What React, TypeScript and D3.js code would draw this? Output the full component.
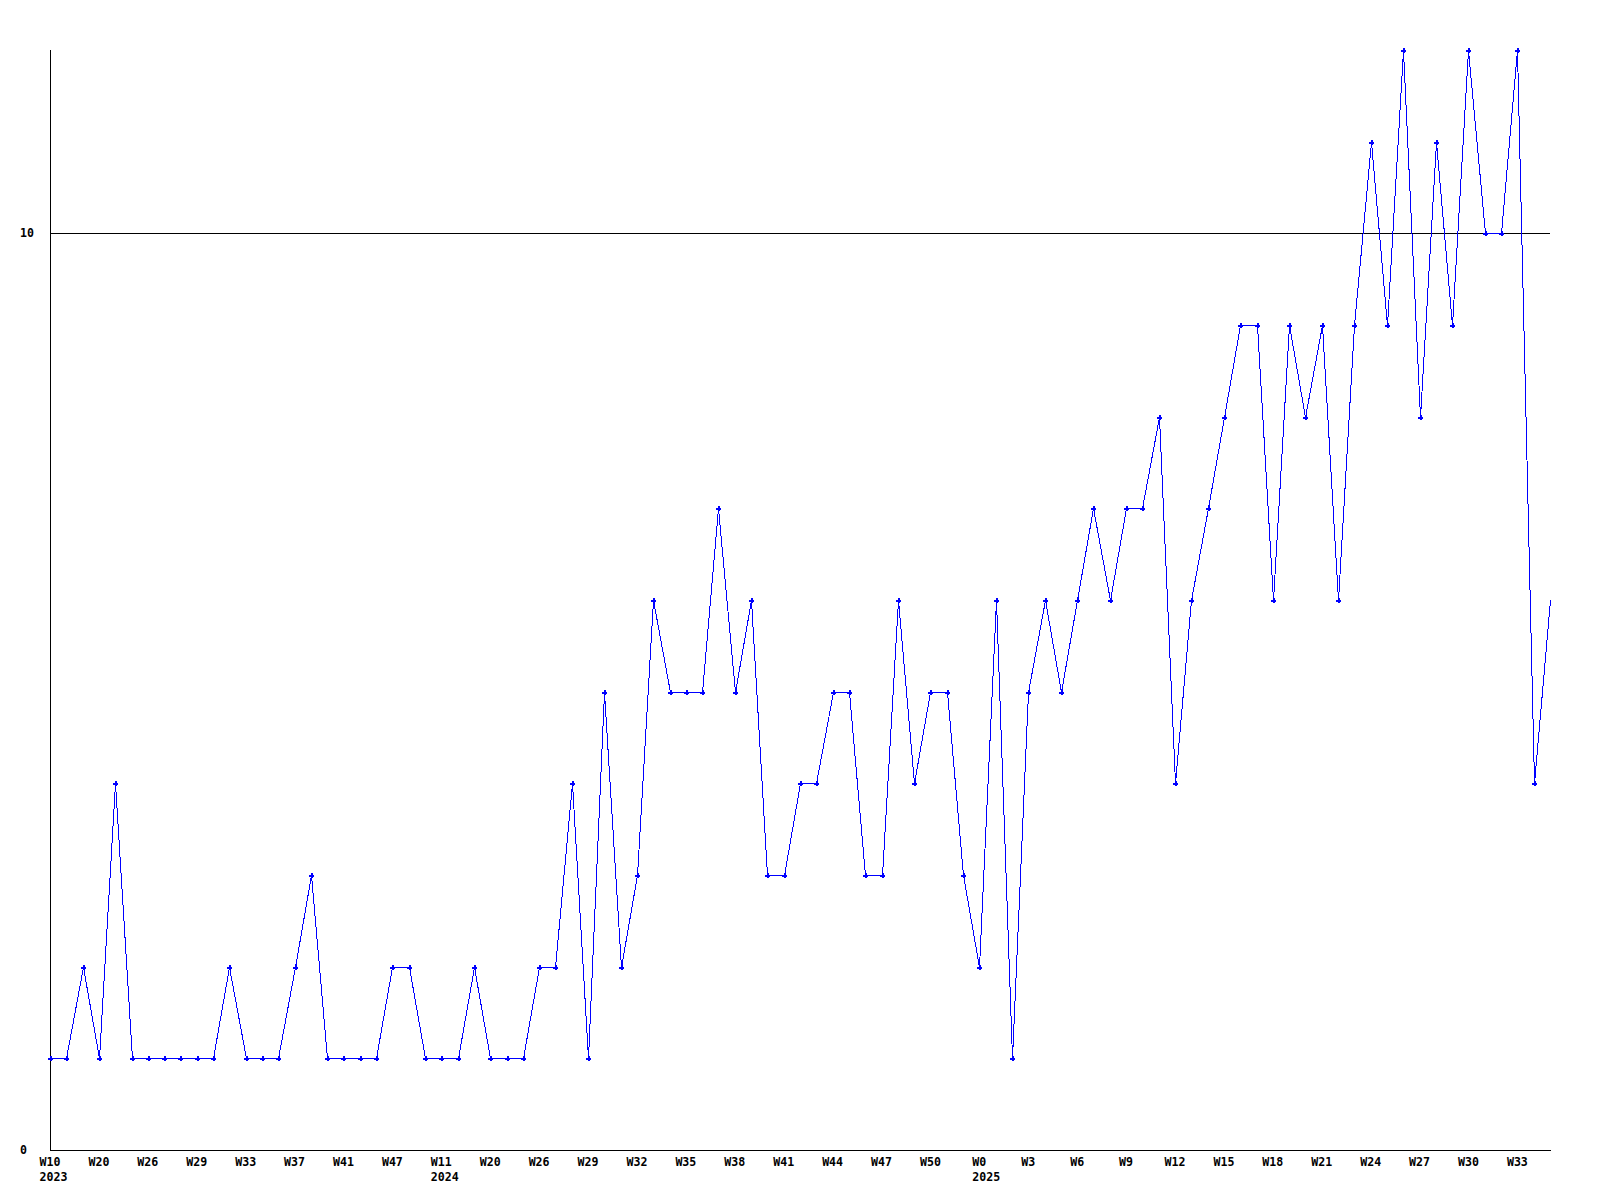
import React from "react";
import * as d3 from "d3";

// Weekly values (93 consecutive data points)
const values: number[] = [
  1, 1, 2, 1, 4, 1, 1, 1, 1, 1,
  1, 2, 1, 1, 1, 2, 3, 1, 1, 1,
  1, 2, 2, 1, 1, 1, 2, 1, 1, 1,
  2, 2, 4, 1, 5, 2, 3, 6, 5, 5,
  5, 7, 5, 6, 3, 3, 4, 4, 5, 5,
  3, 3, 6, 4, 5, 5, 3, 2, 6, 1,
  5, 6, 5, 6, 7, 6, 7, 7, 8, 4,
  6, 7, 8, 9, 9, 6, 9, 8, 9, 6,
  9, 11, 9, 12, 8, 11, 9, 12, 10, 10,
  12, 4, 6,
];

// Tick labels shown every 3rd point
const tickWeeks: string[] = [
  "W10", "W20", "W26", "W29", "W33", "W37", "W41", "W47", "W11", "W20",
  "W26", "W29", "W32", "W35", "W38", "W41", "W44", "W47", "W50", "W0",
  "W3", "W6", "W9", "W12", "W15", "W18", "W21", "W24", "W27", "W30", "W33",
];
const tickYears: string[] = [
  "2023", "", "", "", "", "", "", "", "2024", "",
  "", "", "", "", "", "", "", "", "", "2025",
  "", "", "", "", "", "", "", "", "", "", "",
];
const tickStep = 3;
const yTicks: number[] = [0, 10];
const yMax = 12;

const W = 1600;
const H = 1200;
const left = 50;
const right = 1550;
const top = 50;
const bottom = 1150;

export default function App() {
  const x = d3
    .scaleLinear()
    .domain([0, values.length - 1])
    .range([left, right]);
  const y = d3.scaleLinear().domain([0, yMax]).range([bottom, top]);

  const line = d3
    .line<number>()
    .x((_, i) => Math.round(x(i)) + 0.5)
    .y((d) => Math.round(y(d)) + 0.5);

  const font = "'DejaVu Sans Mono', monospace";
  const fontSize = 11.6;
  const charW = fontSize * 0.602;

  const plus = (cx: number, cy: number) =>
    `M${cx - 2},${cy - 0.5}h5v2h-5z M${cx - 0.5},${cy - 2}h2v5h-2z`;

  return (
    <svg
      width={W}
      height={H}
      style={{ position: "absolute", left: 0, top: 0, background: "#fff" }}
    >
      <rect x={0} y={0} width={W} height={H} fill="#fff" />
      {/* gridlines */}
      {yTicks
        .filter((t) => t !== 0)
        .map((t) => (
          <line
            key={"g" + t}
            x1={left}
            x2={right}
            y1={Math.round(y(t)) + 0.5}
            y2={Math.round(y(t)) + 0.5}
            stroke="#000"
            strokeWidth={1}
            shapeRendering="crispEdges"
          />
        ))}
      {/* axes */}
      <line
        x1={left + 0.5}
        x2={left + 0.5}
        y1={top}
        y2={bottom + 1}
        stroke="#000"
        shapeRendering="crispEdges"
      />
      <line
        x1={left}
        x2={right + 1}
        y1={bottom + 0.5}
        y2={bottom + 0.5}
        stroke="#000"
        shapeRendering="crispEdges"
      />
      {/* y labels */}
      {yTicks.map((t) => (
        <text
          key={"y" + t}
          x={20}
          y={y(t) + 4}
          fontFamily={font}
          fontWeight="bold"
          fontSize={fontSize}
          fill="#000"
        >
          {t}
        </text>
      ))}
      {/* x labels */}
      {tickWeeks.map((w, k) => {
        const cx = x(k * tickStep);
        const startX = cx - (w.length * charW) / 2;
        return (
          <g key={"x" + k}>
            <text
              x={startX}
              y={1165.5}
              fontFamily={font}
              fontWeight="bold"
              fontSize={fontSize}
              fill="#000"
            >
              {w}
            </text>
            {tickYears[k] && (
              <text
                x={startX}
                y={1181}
                fontFamily={font}
                fontWeight="bold"
                fontSize={fontSize}
                fill="#000"
              >
                {tickYears[k]}
              </text>
            )}
          </g>
        );
      })}
      {/* series line */}
      <path
        d={line(values) || ""}
        fill="none"
        stroke="#0000ff"
        strokeWidth={1}
        shapeRendering="crispEdges"
      />
      {/* markers (last partial point has none) */}
      {values.slice(0, values.length - 1).map((v, i) => (
        <path
          key={"m" + i}
          d={plus(Math.round(x(i)), Math.round(y(v)))}
          fill="#0000ff"
          shapeRendering="crispEdges"
        />
      ))}
    </svg>
  );
}
